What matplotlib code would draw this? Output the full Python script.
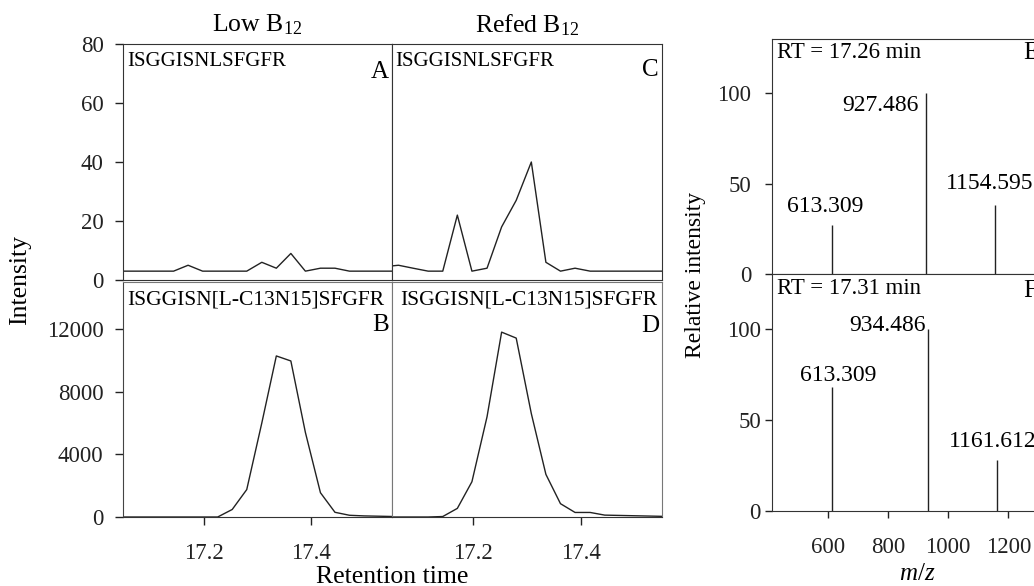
import matplotlib
matplotlib.use('Agg')
import matplotlib.pyplot as plt

# retention times of the scans (min)
rt = [17.035, 17.062, 17.089, 17.117, 17.144, 17.171, 17.198, 17.226, 17.253, 17.280,
      17.308, 17.335, 17.362, 17.389, 17.417, 17.444, 17.471, 17.498, 17.526, 17.553]

# extracted ion chromatograms
low_light = [3, 3, 3, 3, 3, 5, 3, 3, 3, 3, 6, 4, 9, 3, 4, 4, 3, 3, 3, 3]
low_heavy = [0, 0, 0, 0, 0, 0, 0, 0, 480, 1750, 6000, 10280, 9960, 5400, 1550, 300, 110, 70, 50, 30]
refed_light = [4.5, 5, 4, 3, 3, 22, 3, 4, 18, 27, 40, 6, 3, 4, 3, 3, 3, 3, 3, 3]
refed_heavy = [0, 0, 0, 0, 30, 550, 2250, 6400, 11800, 11420, 6600, 2720, 850, 290, 290, 120, 100, 80, 60, 40]

light_peptide = 'ISGGISNLSFGFR'
heavy_peptide = 'ISGGISN[L-C13N15]SFGFR'

# MS spectra at the peak apex
mz_e = [613.309, 927.486, 1154.595]
rel_e = [27, 100, 38]
mz_f = [613.309, 934.486, 1161.612]
rel_f = [68, 100, 28]
rt_e = 'RT = 17.26 min'
rt_f = 'RT = 17.31 min'

W, H = 1034, 586
plt.rcParams['font.family'] = ['Liberation Serif', 'DejaVu Serif']
plt.rcParams['mathtext.fontset'] = 'custom'
plt.rcParams['mathtext.rm'] = 'Liberation Serif'
plt.rcParams['mathtext.it'] = 'Liberation Serif:italic'

fig = plt.figure(figsize=(W / 100, H / 100), dpi=100)


def box(l, t, r, b):
    return fig.add_axes([l / W, 1 - b / H, (r - l) / W, (b - t) / H])


def ftext(x, y, s, **kw):
    fig.text(x / W, 1 - y / H, s, **kw)


ax_a = box(123, 44, 392, 280)
ax_c = box(392, 44, 662, 280)
ax_b = box(123, 282, 392, 517)
ax_d = box(392, 282, 662, 517)
ax_e = box(772, 39, 1052, 274)
ax_f = box(772, 274, 1052, 511)

LINE = '#222222'
TS = 16.5

for ax, y in [(ax_a, low_light), (ax_c, refed_light), (ax_b, low_heavy), (ax_d, refed_heavy)]:
    ax.plot(rt, y, color=LINE, lw=1.0)
    ax.set_xlim(17.05, 17.55)
    ax.tick_params(direction='out', length=6, width=1, labelsize=TS, pad=8, colors='#222222')
    ax.tick_params(axis='x', pad=13)

for ax in (ax_a, ax_c):
    ax.set_ylim(0, 80)
    ax.set_xticks([])
    for s in ax.spines.values():
        s.set_color('#333333')
for ax in (ax_b, ax_d):
    ax.set_ylim(0, 15000)
    ax.set_xticks([17.2, 17.4])
    for s in ax.spines.values():
        s.set_color('#777777')
    ax.spines['bottom'].set_color('#333333')

ax_a.set_yticks([0, 20, 40, 60, 80])
ax_b.set_yticks([0, 4000, 8000, 12000])
ax_b.spines['left'].set_color('#444444')
ax_c.set_yticks([])
ax_d.set_yticks([])

# peptide names and panel letters
for ax, name, dx, fs in [(ax_a, light_peptide, 4, 15), (ax_c, light_peptide, 3, 15),
                         (ax_b, heavy_peptide, 4, 15.5), (ax_d, heavy_peptide, 8, 15.5)]:
    ax.annotate(name, (0, 1), xycoords='axes fraction', xytext=(dx, -8),
                textcoords='offset pixels', ha='left', va='top', fontsize=fs)
for ax, letter, dy in [(ax_a, 'A', -17), (ax_c, 'C', -15), (ax_b, 'B', -32), (ax_d, 'D', -33)]:
    ax.annotate(letter, (1, 1), xycoords='axes fraction', xytext=(-3, dy),
                textcoords='offset pixels', ha='right', va='top', fontsize=18)

# mass spectra
for ax, mz, rel in [(ax_e, mz_e, rel_e), (ax_f, mz_f, rel_f)]:
    ax.vlines(mz, 0, rel, color=LINE, lw=1.0)
    ax.set_xlim(415, 1345)
    ax.set_ylim(0, 130)
    ax.set_yticks([0, 50, 100])
    ax.tick_params(direction='out', length=5, width=1, labelsize=TS, colors='#222222')
    for s in ax.spines.values():
        s.set_color('#333333')
ax_e.set_xticks([])
ax_e.tick_params(axis='y', pad=10)
ax_f.set_xticks([600, 800, 1000, 1200])
ax_f.tick_params(axis='y', pad=3)
ax_f.tick_params(axis='x', pad=14)

# peak labels: offsets (pixels) from the top of each stem
offs_e = [(-7, 19, 'center'), (-8, -12, 'right'), (-5, 22, 'center')]
offs_f = [(6, 12, 'center'), (-3, 3, 'right'), (-4, 18, 'center')]
for ax, mz, rel, offs in [(ax_e, mz_e, rel_e, offs_e), (ax_f, mz_f, rel_f, offs_f)]:
    for m, r, (ox, oy, ha) in zip(mz, rel, offs):
        ax.annotate(f'{m:.3f}', (m, r), xytext=(ox, oy), textcoords='offset pixels',
                    ha=ha, va='center', fontsize=17)

ax_e.annotate(rt_e, (0, 1), xycoords='axes fraction', xytext=(5, -14),
              textcoords='offset pixels', ha='left', va='center', fontsize=16.5)
ax_f.annotate(rt_f, (0, 1), xycoords='axes fraction', xytext=(5, -15),
              textcoords='offset pixels', ha='left', va='center', fontsize=16.5)
ftext(1023, 53, 'E', ha='left', va='center', fontsize=18)
ftext(1023, 291, 'F', ha='left', va='center', fontsize=18)

# titles and axis labels
ftext(257, 25, r'Low B$_{12}$', ha='center', va='center', fontsize=18.5)
ftext(527, 25, r'Refed B$_{12}$', ha='center', va='center', fontsize=18.5)
ftext(20, 280, 'Intensity', rotation=90, ha='center', va='center', fontsize=18.5)
ftext(392, 577, 'Retention time', ha='center', va='center', fontsize=18.5)
ftext(695, 275, 'Relative intensity', rotation=90, ha='center', va='center', fontsize=17)
ftext(917, 574, r'$m/z$', ha='center', va='center', fontsize=18)

fig.savefig('out.png', dpi=100)
